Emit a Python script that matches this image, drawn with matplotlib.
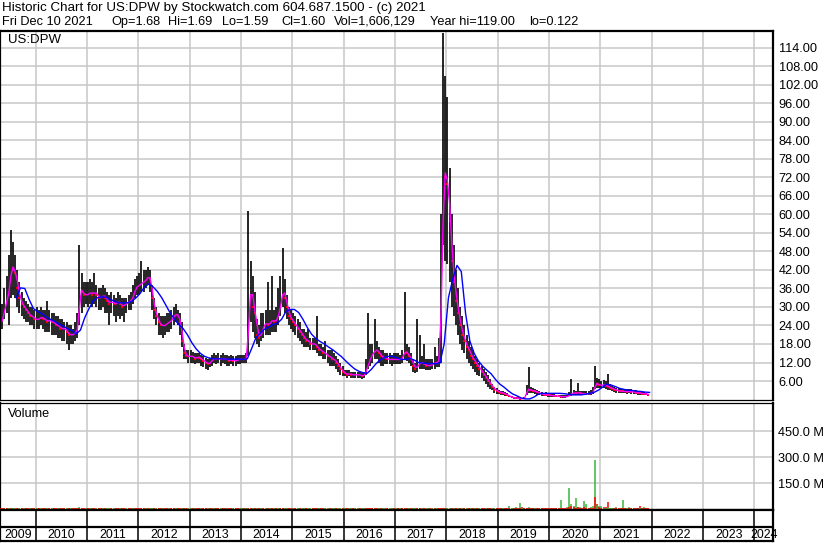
import numpy as np
import pandas as pd
import matplotlib
matplotlib.use("Agg")
import matplotlib.pyplot as plt

plt.rcParams['font.family'] = ['Liberation Sans', 'DejaVu Sans']

# half-month price bars for US:DPW (first bar is late April 2009)
close = [
    24, 27, 30, 33, 36, 44, 42, 41, 36, 33, 31, 30, 29, 28, 27, 27, 26,  # 2009
    26, 26, 27, 26, 26, 25, 26, 25, 25, 24, 24, 23, 23, 23, 22, 21, 21, 21, 22, 23, 36, 35, 34, 34,  # 2010
    34, 35, 34, 35, 34, 33, 33, 34, 33, 32, 31, 32, 31, 31, 32, 31, 30, 31, 31, 32, 32, 34, 36, 37,  # 2011
    37, 38, 38, 39, 40, 39, 33, 29, 27, 25, 24, 24, 24, 25, 25, 26, 27, 28, 27, 25, 19, 15, 14, 14,  # 2012
    14, 14, 13, 14, 13.5, 13, 12.5, 12, 11.5, 12, 13, 13.5, 13, 13.5, 13, 13.5, 13, 13, 12.5, 13, 12.5, 12.5, 13, 13,  # 2013
    13, 13, 13.5, 30, 38, 30, 28, 21, 20, 22, 24, 25, 24, 25, 26, 25, 26, 28, 32, 36, 33, 30, 27, 26,  # 2014
    25, 24, 23, 22, 21, 20, 19, 19, 18, 18, 18, 17, 16, 16, 15, 15, 14, 14, 13, 13, 12, 11, 10, 9,  # 2015
    8.5, 8, 8.5, 8, 8, 8, 8, 8, 7.5, 8, 10, 12, 14, 15, 16, 16, 15, 14, 13.5, 13.5, 13, 13, 13, 13,  # 2016
    13, 13, 13, 14, 16, 15, 14, 13, 11, 10, 11, 12, 12, 11.5, 11, 11, 11, 11.5, 12, 12, 13, 40, 75, 72,  # 2017
    70, 58, 45, 38, 32, 28, 24, 21, 19, 17, 16, 14, 13, 12, 11, 10, 9, 8, 7, 6, 5, 4, 3.2, 2.8,  # 2018
    2.4, 2.2, 2, 1.8, 1.4, 1, 0.7, 0.5, 0.4, 0.35, 0.3, 0.3, 0.4, 3.5, 3.2, 3, 2.8, 2.6, 2.4, 2, 1.8, 1.6, 1.5, 1.4,  # 2019
    1.3, 1.3, 1.2, 1.1, 1, 0.9, 0.9, 0.9, 1, 1.5, 2, 2.2, 2, 2.3, 2, 1.9, 1.8, 1.8, 1.9, 2, 2.5, 5.5, 5, 4.6,  # 2020
    4.6, 4.8, 4.5, 4.2, 3.8, 3.5, 3.2, 3, 2.8, 2.7, 2.6, 2.6, 2.5, 2.6, 2.5, 2.4, 2.2, 2.1, 2, 1.9, 1.8, 1.7, 1.6,  # 2021
]
high = [
    28, 31, 36, 40, 47, 55, 51, 47, 42, 38, 35, 33, 32, 31, 30, 30, 29,
    30, 29, 30, 29, 29, 32, 29, 28, 28, 27, 27, 26, 26, 25, 25, 24, 24, 23, 25, 28, 50, 41, 38, 38,
    38, 39, 38, 41, 37, 36, 36, 37, 36, 35, 34, 35, 34, 33, 35, 34, 33, 33, 33, 34, 35, 37, 39, 40,
    41, 45, 42, 42, 43, 42, 37, 33, 30, 28, 27, 27, 27, 28, 28, 29, 30, 31, 29, 28, 25, 18, 16, 16,
    16, 15.5, 15, 15, 15, 14.5, 14, 13.5, 13, 13.5, 14.5, 15, 14.5, 15, 14.5, 15, 14.5, 14.5, 14, 14.5, 14, 14, 14.5, 14.5,
    14.5, 14.5, 15, 61, 45, 40, 35, 26, 24, 28, 28, 29, 38, 29, 40, 29, 30, 36, 40, 49, 39, 34, 30, 29,
    28, 27, 26, 25, 23, 23, 22, 23, 20, 20, 20, 27, 18, 18, 17, 19, 16, 16, 16, 15, 14, 13, 12, 11,
    9.5, 9.5, 9.5, 9, 9, 9, 9, 9, 8.5, 9, 13, 28, 18, 18, 26, 19, 17, 16, 16, 15, 15, 15, 14.5, 15,
    15, 15, 14.5, 16, 35, 18, 17, 15, 13, 12, 26, 21, 14, 18, 13, 13, 13, 13, 17, 14, 20, 60, 119, 105,
    98, 75, 60, 50, 42, 36, 30, 27, 24, 21, 19, 17, 16, 14, 13, 12, 11, 10, 9, 8, 6.5, 5, 4.2, 3.8,
    3, 2.8, 2.6, 2.4, 2, 1.4, 1, 0.8, 0.6, 0.5, 0.5, 0.45, 0.8, 4.7, 10.6, 4, 3.8, 3.5, 3.2, 2.8, 2.5, 2.2, 2.5, 2,
    1.8, 1.8, 1.7, 1.5, 1.4, 1.3, 1.3, 1.3, 1.4, 2.5, 6.5, 3, 2.8, 5.2, 2.8, 2.7, 2.6, 2.6, 2.7, 3, 4, 10.9, 7, 6.5,
    6, 6.2, 6, 8.3, 5, 4.5, 4, 3.8, 3.6, 3.5, 3.4, 3.5, 3.3, 3.4, 3.3, 3.2, 3, 2.8, 2.7, 2.6, 2.4, 2.2, 1.69,
]
low = [
    22, 23, 26, 28, 24, 33, 34, 33, 30, 28, 27, 26, 25, 25, 24, 24, 23,
    23, 23, 24, 23, 22, 22, 22, 21, 21, 21, 20, 20, 19, 19, 18, 16, 18, 18, 19, 20, 24, 28, 30, 31,
    30, 31, 30, 31, 30, 29, 29, 30, 28, 28, 24, 28, 27, 25, 27, 26, 27, 25, 28, 29, 29, 31, 33, 34,
    34, 35, 35, 36, 37, 35, 29, 26, 24, 21, 21, 20, 21, 22, 22, 23, 24, 25, 24, 21, 17, 13, 13, 12,
    12, 12, 11.5, 12, 12, 11, 10.5, 10, 9.5, 10.5, 11, 12, 11.5, 12, 11, 12, 11.5, 11, 11, 11.5, 11, 11, 11.5, 11.5,
    12, 12, 12, 14, 25, 22, 20, 18, 17, 19, 20, 21, 21, 21, 22, 22, 22, 24, 27, 30, 28, 26, 24, 23,
    22, 21, 20, 19, 18, 17, 17, 17, 16, 16, 16, 15, 14, 14, 13, 13, 12, 11, 11, 11, 10, 9, 8, 7.5,
    7.5, 7, 7.5, 7, 7, 7, 7, 7, 6.5, 7, 8, 10, 11, 12, 13, 13, 12, 11, 11, 11.5, 11.5, 11.5, 11, 11.5,
    11.5, 11.5, 11.5, 12, 13, 12.5, 12, 11, 9, 8.5, 9, 10, 10, 10, 9.5, 9.5, 9.5, 10, 10, 10.5, 10.5, 12, 50, 45,
    44, 38, 30, 27, 24, 21, 18, 16, 15, 13, 12, 11, 10, 9, 8, 7.5, 7, 6, 5, 4, 3.5, 3, 2.2, 1.8,
    1.8, 1.6, 1.4, 1.2, 1, 0.7, 0.5, 0.3, 0.25, 0.2, 0.2, 0.2, 0.2, 1.5, 2, 2, 2, 1.8, 1.6, 1.4, 1.2, 1, 1, 0.9,
    0.9, 0.9, 0.8, 0.8, 0.7, 0.6, 0.6, 0.6, 0.7, 1, 1.2, 1.5, 1.4, 1.5, 1.4, 1.3, 1.3, 1.3, 1.4, 1.5, 1.8, 3.5, 3.6, 3.8,
    3.6, 3.8, 3.4, 3.2, 3, 2.6, 2.4, 2.2, 2.1, 2, 2, 2, 1.9, 2, 1.9, 1.8, 1.7, 1.6, 1.6, 1.5, 1.4, 1.4, 1.59,
]
# long moving average (blue line) read at mid-month, from Aug 2009
ma_blue = [
    33, 36.2, 36, 32.5, 29.5,
    28.5, 27.8, 26.8, 26, 25.3, 24.5, 23.8, 23, 22.3, 21.3, 22.5, 26.5,
    29.5, 32, 33, 33.3, 33.2, 32.5, 31.8, 31.4, 31.3, 31.4, 31.8, 33,
    34.5, 36.5, 37.5, 36.5, 35, 33, 30.5, 28, 26, 24.3, 23, 21,
    18.5, 16.5, 15, 14, 13.5, 13.2, 13.2, 13.2, 13.1, 13.1, 13.1, 13.1,
    13, 13.2, 16.5, 20, 21.5, 22.8, 23.5, 24.3, 24.7, 26, 28.5, 29.2,
    29.2, 28.2, 26, 23.4, 21.2, 19.8, 18.8, 18, 17, 16.1, 15, 13.9,
    12.5, 11.2, 10, 9.2, 8.7, 8.5, 9.8, 11.5, 12.8, 13.6, 14, 14,
    13.5, 13, 13, 13.3, 12.8, 12, 11.8, 11.7, 11.7, 11.6, 11.8, 18,
    33, 39, 43.5, 41.5, 28, 19, 15, 12.5, 10.8, 9.5, 8.3, 6.5,
    5, 4, 2.8, 1.8, 1.2, 0.5, 0.2, 0.2, 0.8, 1.7, 2, 2,
    2, 2, 2, 1.9, 1.7, 1.5, 1.5, 1.5, 1.7, 2, 2.3, 3,
    4, 5, 4.7, 4.2, 3.6, 3.3, 3, 2.9, 2.7, 2.6, 2.4, 2.3,
]
# biggest up-day and down-day volume in each half month, millions
vol_up = [
    8, 7, 9, 10, 8, 11, 7, 6, 7, 6, 7, 6, 6, 7, 6, 6, 7,
    6, 7, 6, 8, 7, 6, 7, 6, 6, 7, 6, 6, 7, 6, 6, 7, 6, 6, 7, 8, 12, 8, 7, 6,
    7, 6, 7, 8, 6, 6, 7, 6, 7, 6, 6, 7, 6, 6, 7, 6, 6, 7, 6, 6, 7, 6, 7, 8,
    7, 8, 7, 6, 7, 6, 7, 7, 6, 6, 7, 6, 6, 7, 6, 6, 7, 6, 6, 7, 6, 7, 6, 6,
    6, 7, 6, 6, 7, 6, 6, 7, 6, 6, 7, 6, 6, 7, 6, 6, 7, 6, 6, 7, 6, 6, 7, 6,
    6, 7, 6, 10, 9, 8, 7, 6, 7, 6, 7, 6, 7, 6, 7, 6, 7, 6, 7, 8, 7, 6, 7, 6,
    6, 7, 6, 7, 6, 6, 7, 6, 6, 7, 6, 7, 6, 6, 7, 6, 6, 7, 6, 6, 7, 6, 6, 7,
    6, 7, 6, 6, 7, 6, 6, 7, 6, 6, 8, 9, 7, 7, 8, 7, 6, 7, 6, 6, 7, 6, 6, 7,
    6, 7, 6, 7, 8, 7, 6, 7, 6, 6, 7, 7, 6, 7, 6, 6, 7, 6, 7, 6, 7, 9, 11, 9,
    8, 7, 7, 6, 7, 6, 7, 6, 7, 6, 7, 6, 7, 6, 7, 6, 7, 7, 6, 7, 8, 7, 8, 9,
    8, 7, 6, 9, 7, 20, 8, 7, 15, 7, 37, 9, 7, 10, 12, 9, 7, 6, 6, 7, 6, 6, 7, 6,
    6, 7, 6, 7, 8, 54, 10, 8, 12, 121, 30, 20, 68, 15, 12, 10, 46, 29, 8, 12, 20, 287, 25, 20,
    20, 10, 8, 12, 8, 7, 8, 12, 7, 8, 52, 10, 7, 12, 8, 7, 6, 6, 7, 8, 15, 7, 6,
]
vol_dn = [
    6, 7, 8, 9, 9, 10, 8, 7, 6, 7, 6, 7, 6, 6, 7, 6, 6,
    7, 6, 7, 6, 6, 7, 6, 7, 6, 6, 7, 6, 7, 6, 7, 6, 7, 6, 6, 7, 9, 8, 6, 7,
    6, 7, 6, 7, 7, 6, 6, 7, 6, 7, 7, 6, 7, 6, 6, 7, 6, 6, 7, 6, 6, 7, 6, 7,
    6, 7, 6, 7, 6, 7, 8, 7, 7, 6, 6, 7, 6, 6, 7, 6, 6, 7, 6, 7, 8, 7, 6, 7,
    7, 6, 7, 6, 6, 7, 6, 6, 7, 6, 6, 7, 6, 6, 7, 6, 6, 7, 6, 6, 7, 6, 6, 7,
    7, 6, 7, 8, 8, 9, 7, 7, 6, 7, 6, 7, 6, 7, 6, 7, 6, 7, 6, 7, 8, 7, 7, 6,
    7, 6, 7, 6, 7, 7, 6, 7, 7, 6, 6, 7, 7, 6, 6, 7, 7, 6, 7, 7, 6, 7, 7, 6,
    7, 6, 7, 7, 6, 7, 7, 6, 7, 7, 7, 8, 7, 6, 7, 6, 7, 6, 7, 7, 6, 7, 7, 6,
    7, 6, 7, 6, 7, 6, 7, 6, 7, 7, 6, 6, 7, 6, 7, 7, 6, 7, 6, 7, 6, 8, 10, 9,
    9, 8, 7, 7, 6, 7, 6, 7, 6, 7, 6, 7, 6, 7, 6, 7, 6, 6, 7, 6, 7, 8, 9, 8,
    7, 6, 7, 6, 7, 8, 10, 7, 6, 7, 8, 14, 6, 8, 9, 7, 6, 7, 6, 7, 6, 6, 7, 6,
    6, 7, 6, 7, 6, 9, 7, 7, 9, 15, 18, 12, 10, 14, 9, 8, 12, 10, 7, 8, 10, 73, 30, 12,
    10, 12, 15, 41, 10, 8, 7, 7, 6, 7, 10, 7, 8, 7, 6, 7, 6, 6, 20, 8, 7, 6, 6,
]
years = list(range(2009, 2025))
price_ticks = list(range(6, 115, 6))
vol_ticks = [150, 300, 450]
head_1 = "Historic Chart for US:DPW by Stockwatch.com 604.687.1500 - (c) 2021"
head_2 = ["Fri Dec 10 2021", "Op=1.68", "Hi=1.69", "Lo=1.59", "Cl=1.60", "Vol=1,606,129", "Year hi=119.00", "lo=0.122"]
head_2_x = [2, 111.7, 168.3, 221.7, 281, 334.3, 430, 529]

close = np.array(close, float)
high = np.array(high, float)
low = np.array(low, float)
vol_up = np.array(vol_up, float)
vol_dn = np.array(vol_dn, float)
# bar k sits in half-month slot k of the year, first bar in slot 7 of 2009
t = 2009 + (np.arange(7, 7 + len(close)) + 0.5) / 24
t_blue = 2009 + (np.arange(7, 7 + len(ma_blue)) + 0.5) / 12
ma_fast = pd.Series(close).rolling(2).mean()
down = np.r_[False, close[1:] < close[:-1]]

W, H = 830, 543
def box(x0, y0, x1, y1):
    return [x0 / W, 1 - y1 / H, (x1 - x0) / W, (y1 - y0) / H]

x_left = 2010 - 35.5 / 51.35
x_right = 2010 + (773 - 35.5) / 51.35
grid_c = "#c8c8c8"
green = "#3cb43c"

fig = plt.figure(figsize=(W / 100, H / 100), dpi=100)
fig.patch.set_facecolor("white")

fig.text(2 / W, 1 - 1.5 / H, head_1, ha="left", va="top", fontsize=9.6)
for s, xp in zip(head_2, head_2_x):
    fig.text(xp / W, 1 - 16 / H, s, ha="left", va="top", fontsize=9.2)

# price panel
ax = fig.add_axes(box(0, 31, 773, 400))
ax.vlines(t, low, high, color="black", lw=1.2, zorder=2)
ax.plot(t[down], close[down], "s", ms=1.7, mew=0, color="red", zorder=3)
ax.plot(t, ma_fast, color="#ff00ff", lw=1.0, zorder=4)
ax.plot(t_blue, ma_blue, color="#0000ff", lw=1.0, zorder=5)
ax.set_xlim(x_left, x_right)
ax.set_ylim(-0.16, 119.5)
ax.set_yticks(price_ticks)
ax.set_yticklabels([f"{v:.2f}" for v in price_ticks])
ax.yaxis.tick_right()
ax.tick_params(axis="y", length=0, pad=4.2, labelsize=9.2)
ax.set_xticks(years[1:])
ax.tick_params(axis="x", length=0, labelbottom=False)
ax.grid(True, color=grid_c, lw=1.1, zorder=0)
for s in ["left", "top", "right"]:
    ax.spines[s].set_linewidth(1.6)
ax.spines["bottom"].set_linewidth(0.9)
ax.text(8 / 773, 1 - 3 / 369, "US:DPW", transform=ax.transAxes, ha="left", va="top", fontsize=9.5)

# volume panel: the taller of the two bars goes behind the shorter one
axv = fig.add_axes(box(0, 403, 773, 509.5))
up_back = vol_up >= vol_dn
axv.vlines(t[up_back], 0, vol_up[up_back], color=green, lw=1.1, zorder=2)
axv.vlines(t[~up_back], 0, vol_dn[~up_back], color="red", lw=1.1, zorder=2)
axv.vlines(t[up_back], 0, vol_dn[up_back], color="red", lw=1.1, zorder=3)
axv.vlines(t[~up_back], 0, vol_up[~up_back], color=green, lw=1.1, zorder=3)
axv.set_xlim(x_left, x_right)
axv.set_ylim(0, 612)
axv.set_yticks(vol_ticks)
axv.set_yticklabels([f"{v:.1f} M" for v in vol_ticks])
axv.yaxis.tick_right()
axv.tick_params(axis="y", length=0, pad=3.6, labelsize=9.2)
axv.set_xticks(years[1:])
axv.tick_params(axis="x", length=0, labelbottom=False)
axv.grid(True, color=grid_c, lw=1.1, zorder=0)
for s in ["left", "right", "bottom"]:
    axv.spines[s].set_linewidth(1.6)
axv.spines["top"].set_linewidth(0.9)
axv.text(8 / 773, 1 - 5 / 106.5, "Volume", transform=axv.transAxes, ha="left", va="top", fontsize=9.1)

# year strip
axy = fig.add_axes(box(0, 509.5, 773, 541))
axy.set_xlim(x_left, x_right)
axy.set_ylim(0, 1)
axy.set_xticks([])
axy.set_yticks([])
axy.vlines(years[1:], 0, 1, color="black", lw=1.1)
axy.axhline(0.445, color="black", lw=1.6)
for s in axy.spines.values():
    s.set_linewidth(1.6)
for y in years:
    a = max(y, x_left)
    b = min(y + 1, x_right)
    axy.text((a + b) / 2, 0.2, str(y), ha="center", va="center", fontsize=8.9, clip_on=False)

fig.savefig("out.png", dpi=100, facecolor="white")
